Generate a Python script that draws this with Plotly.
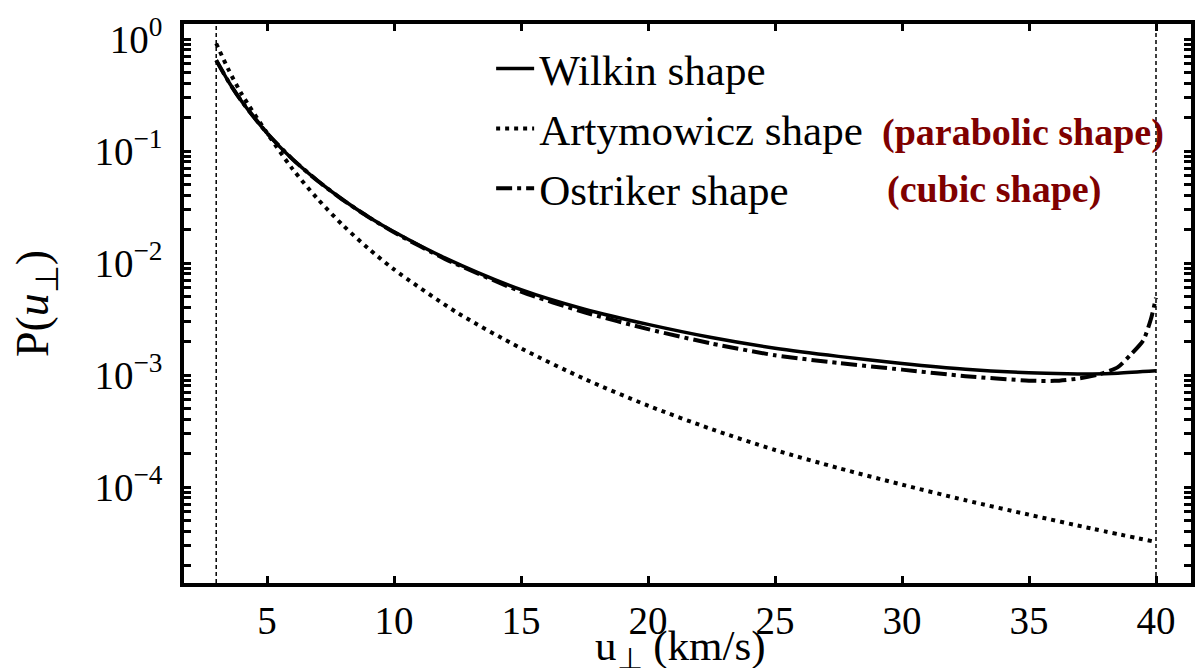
import plotly.graph_objects as go

# Perpendicular velocity u_perp (km/s) and probability density P(u_perp)
u_wilkin = [3, 3.5, 4, 5, 6, 7, 8, 9, 10, 12, 15, 17.5, 20, 22.5, 25, 27.5,
            30, 32.5, 35, 36.5, 37.5, 38.5, 40]
p_wilkin = [0.646, 0.411, 0.278, 0.1445, 0.0847, 0.0540, 0.0365, 0.0258,
            0.0190, 0.01112, 0.00578, 0.00387, 0.00283, 0.00216, 0.001734,
            0.001467, 0.00127, 0.001127, 0.001047, 0.001026, 0.001023,
            0.001038, 0.001089]

u_arty = [3, 3.5, 4, 5, 6, 7, 8, 9, 10, 12.5, 15, 17.5, 20, 22.5, 25, 27.5,
          30, 32.5, 35, 37.5, 40]
p_arty = [0.912, 0.524, 0.3236, 0.145, 0.0693, 0.0372, 0.0216, 0.01343,
          0.00877, 0.00359, 0.001734, 0.000923, 0.000533, 0.000329,
          0.000214, 0.0001476, 0.000105, 7.62e-5, 5.66e-5, 4.24e-5, 3.23e-5]

u_ostr = [3, 3.5, 4, 5, 6, 7, 8, 9, 10, 12, 15, 17.5, 20, 22.5, 25, 27.5,
          30, 32.5, 35, 36, 37, 37.75, 38.5, 39, 39.5, 39.8, 40]
p_ostr = [0.646, 0.411, 0.278, 0.1445, 0.0847, 0.0540, 0.0364, 0.0257,
          0.0188, 0.0109, 0.00555, 0.00363, 0.00257, 0.00191, 0.00150,
          0.00128, 0.001117, 0.000977, 0.000891, 0.000887, 0.000933,
          0.001012, 0.001175, 0.001514, 0.00204, 0.00316, 0.0049]

u_limits = [3, 40]

# Decade labels (a trailing no-break space keeps them clear of the spine)
y_major = [1, 0.1, 0.01, 1e-3, 1e-4]
y_major_text = ["10<sup>0</sup>\u00a0", "10<sup>−1</sup>\u00a0", "10<sup>−2</sup>\u00a0",
                "10<sup>−3</sup>\u00a0", "10<sup>−4</sup>\u00a0"]
x_ticks = [5, 10, 15, 20, 25, 30, 35, 40]

y_minor = [k * 10.0 ** n for n in range(-5, 1) for k in range(2, 10)]

FONT = "Liberation Serif"

fig = go.Figure()

fig.add_trace(go.Scatter(
    x=u_wilkin, y=p_wilkin, mode="lines", name="Wilkin shape",
    legendgroup="w", line=dict(color="black", width=3.5, shape="spline", smoothing=0.8),
))
fig.add_trace(go.Scatter(
    x=u_arty, y=p_arty, mode="lines", name="Artymowicz shape",
    legendgroup="a", line=dict(color="black", width=4, dash="4px,5px",
                               shape="spline", smoothing=0.8),
))
fig.add_trace(go.Scatter(
    x=u_ostr, y=p_ostr, mode="lines", name="Ostriker shape",
    legendgroup="o", line=dict(color="black", width=4, dash="16px,5px,4px,5px",
                               shape="spline", smoothing=0.6),
))

# Velocity limits
for u0 in u_limits:
    fig.add_shape(type="line", xref="x", yref="paper", x0=u0, x1=u0, y0=0, y1=1,
                  line=dict(color="black", width=1.5, dash="4px,3px"))

fig.add_annotation(text="<b>(parabolic shape)</b>", xref="paper", yref="paper",
                   x=0.6912, y=0.806, xanchor="left", yanchor="middle",
                   showarrow=False, font=dict(family=FONT, size=38, color="#7f0000"))
fig.add_annotation(text="<b>(cubic shape)</b>", xref="paper", yref="paper",
                   x=0.6961, y=0.704, xanchor="left", yanchor="middle",
                   showarrow=False, font=dict(family=FONT, size=38, color="#7f0000"))

# x-axis title, set just below the tick labels
fig.add_annotation(text="u<sub>⊥</sub> (km/s)", xref="paper", yref="paper",
                   x=0.4935, y=-0.0662, xanchor="center", yanchor="top",
                   showarrow=False, font=dict(family=FONT, size=43, color="black"))

axis_common = dict(
    showline=True, linewidth=4, linecolor="black", mirror="ticks",
    ticks="inside", tickwidth=3, ticklen=7, tickcolor="black",
    showgrid=False, zeroline=False, automargin=False,
    tickfont=dict(family=FONT, size=39, color="black"),
)

fig.update_xaxes(
    range=[1.732, 41.378], tickmode="array", tickvals=x_ticks,
    **axis_common,
)
fig.update_yaxes(
    type="log", range=[-4.857, 0.134], tickmode="array",
    tickvals=y_major, ticktext=y_major_text,
    minor=dict(tickmode="array", tickvals=y_minor, ticks="inside", ticklen=7,
               tickwidth=3, tickcolor="black", showgrid=False),
    title=dict(text="P(<i>u</i><sub>⊥</sub>)", font=dict(family=FONT, size=46, color="black"),
               standoff=32),
    **axis_common,
)

fig.update_layout(
    width=1197, height=668,
    margin=dict(l=184, r=6, t=24, b=85),
    paper_bgcolor="white", plot_bgcolor="white",
    font=dict(family=FONT, color="black"),
    showlegend=True,
    legend=dict(x=0.305, y=0.982, xanchor="left", yanchor="top",
                bgcolor="rgba(0,0,0,0)", borderwidth=0,
                font=dict(family=FONT, size=43, color="black"),
                tracegroupgap=1, itemwidth=38),
)

fig.write_html("out.html")
